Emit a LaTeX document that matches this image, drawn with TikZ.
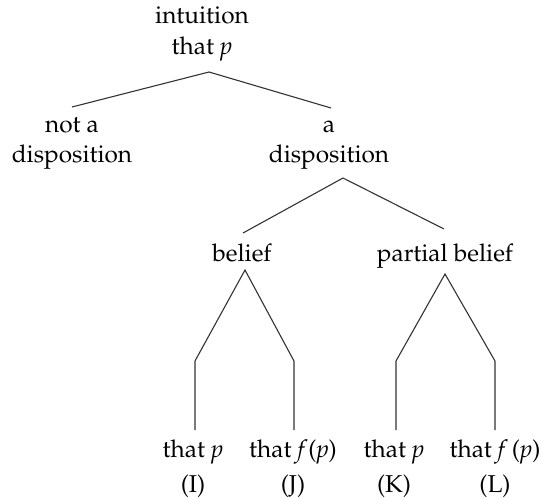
\documentclass[tikz,border=0pt]{standalone}
\usepackage[T1]{fontenc}
\usepackage{mathpazo}
\newcommand{\twol}[2]{\begin{tabular}[t]{@{}c@{}}#1\\#2\end{tabular}}
\newcommand{\twolb}[2]{\begin{tabular}[t]{@{}c@{}}#1\\[2.05pt]#2\end{tabular}}
\begin{document}
\begin{tikzpicture}[x=0.41pt,y=-0.41pt,
  lbl/.style={anchor=base,inner sep=0pt,font=\fontsize{10}{12.7}\selectfont},
  edge/.style={line width=0.45pt,draw=black!80}]
\useasboundingbox (0,0) rectangle (542,497);
% nodes
\node[lbl] (root) at (202,24) {\twol{intuition}{that \textit{p}}};
\node[lbl] (notd) at (72,132) {\twol{not a}{disposition}};
\node[lbl] (disp) at (329,132) {\twol{a}{disposition}};
\node[lbl] (bel) at (242,261) {belief};
\node[lbl] (pbel) at (445,261) {partial belief};
\node[lbl] (I) at (193,457) {\twolb{that \textit{p}}{(I)}};
\node[lbl] (J) at (293,457) {\twolb{that \textit{f}\kern0.3pt(\textit{p})}{(J)}};
\node[lbl] (K) at (394,457) {\twolb{that \textit{p}}{(K)}};
\node[lbl] (L) at (495,457) {\twolb{that \textit{f}\kern1.6pt(\textit{p})}{(L)}};
% connector points
\coordinate (r0) at (209,72);
\coordinate (r1) at (72,107);
\coordinate (r2) at (331,108);
\coordinate (d0) at (343,178);
\coordinate (d1) at (243,233);
\coordinate (d2) at (444,229);
\coordinate (b0) at (245,270);
\coordinate (b1) at (195,361);
\coordinate (b1e) at (195,430);
\coordinate (b2) at (294,361);
\coordinate (b2e) at (294,430);
\coordinate (p0) at (445,274);
\coordinate (p1) at (396,361);
\coordinate (p1e) at (396,430);
\coordinate (p2) at (495,361);
\coordinate (p2e) at (495,430);
% connectors
\draw[edge] (r1) -- (r0) -- (r2);
\draw[edge] (d1) -- (d0) -- (d2);
\draw[edge] (b1e) -- (b1) -- (b0) -- (b2) -- (b2e);
\draw[edge] (p1e) -- (p1) -- (p0) -- (p2) -- (p2e);
\end{tikzpicture}
\end{document}
